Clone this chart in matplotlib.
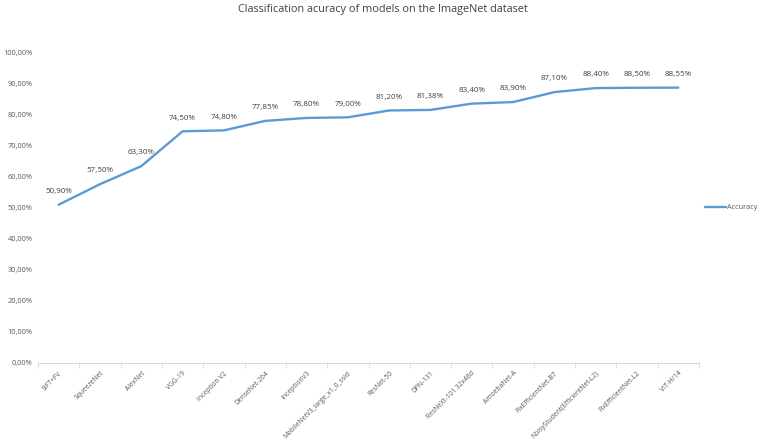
import matplotlib.pyplot as plt
from matplotlib.ticker import FuncFormatter

models = ['SIFT+FV', 'SqueezeNet', 'AlexNet', 'VGG-19', 'Inception V2', 'DenseNet-264',
          'InceptionV3', 'MobileNetV3_large_x1_0_ssld', 'ResNet-50', 'DPN-131',
          'ResNeXt-101 32x48d', 'AmoebaNet-A', 'FixEfficientNet-B7',
          'NoisyStudent(EfficientNet-L2)', 'FixEfficientNet-L2', 'ViT-H/14']
accuracy = [50.90, 57.50, 63.30, 74.50, 74.80, 77.85, 78.80, 79.00, 81.20, 81.38,
            83.40, 83.90, 87.10, 88.40, 88.50, 88.55]
yticks = [0, 10, 20, 30, 40, 50, 60, 70, 80, 90, 100]

plt.rcParams['font.family'] = ['Open Sans', 'DejaVu Sans']
grey = '#595959'
blue = '#5B9BD5'

fig = plt.figure(figsize=(7.65, 4.43), dpi=100)
ax = fig.add_axes([0.0497, 0.1806, 0.8640, 0.7020])

x = range(len(models))
ax.plot(x, accuracy, color=blue, lw=1.7, label='Accuracy', solid_capstyle='round')
for i, v in enumerate(accuracy):
    ax.annotate(('%.2f%%' % v).replace('.', ','), (i, v), xytext=(0, 7),
                textcoords='offset points', ha='center', va='bottom',
                fontsize=5.8, color='#404040')

ax.set_xlim(-0.5, len(models) - 0.5)
ax.set_ylim(0, 100)
ax.set_yticks(yticks)
ax.yaxis.set_major_formatter(FuncFormatter(lambda v, p: ('%.2f%%' % v).replace('.', ',')))
ax.set_xticks(list(x))
ax.set_xticklabels(models, rotation=45, ha='right', rotation_mode='anchor')
ax.set_xticks([i - 0.5 for i in range(len(models) + 1)], minor=True)
ax.tick_params(axis='x', which='major', length=0, pad=5, labelsize=4.9, labelcolor=grey)
ax.tick_params(axis='x', which='minor', length=3.5, color='#d9d9d9')
ax.tick_params(axis='y', length=0, labelsize=5.3, labelcolor=grey, pad=4)
for s in ['top', 'right', 'left']:
    ax.spines[s].set_visible(False)
ax.spines['bottom'].set_color('#d9d9d9')

fig.suptitle('Classification acuracy of models on the ImageNet dataset',
             y=0.99, fontsize=7.8, color='#404040')
ax.legend(loc='center left', bbox_to_anchor=(1.0, 0.5), frameon=False,
          fontsize=5.2, handlelength=2.8, labelcolor=grey, handletextpad=0.2)

fig.savefig('out.png', dpi=100)
